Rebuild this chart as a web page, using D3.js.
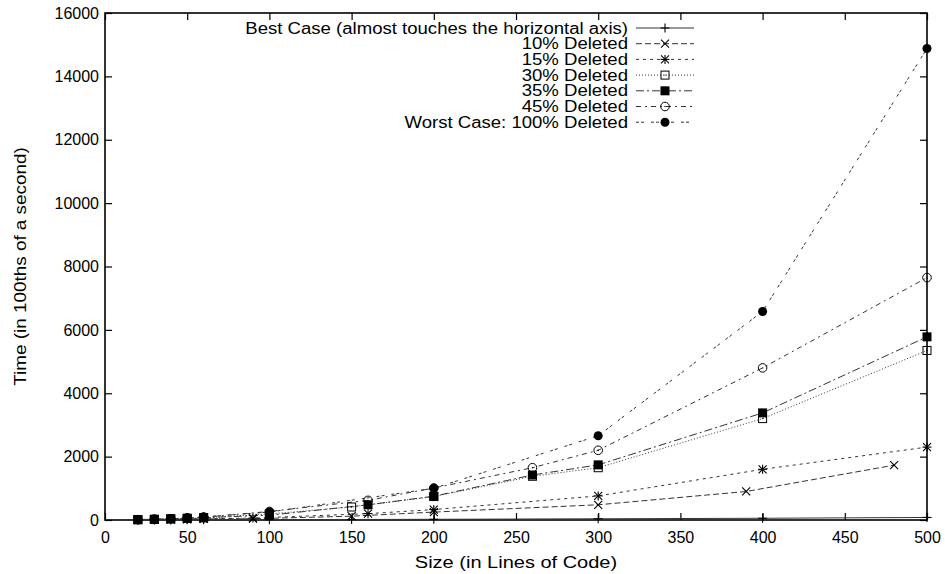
<!DOCTYPE html>
<html>
<head>
<meta charset="utf-8">
<script src="https://cdn.jsdelivr.net/npm/d3@7"></script>
<style>
  body { margin: 0; background: #fff; }
  text { font-family: "Liberation Sans", Arial, Helvetica, sans-serif; fill: #000; }
</style>
</head>
<body>
<svg id="chart" width="945" height="574"></svg>
<script>
// sizes (lines of code) and times (1/100 s)
const sizesBest = [20, 30, 40, 50, 60, 100, 150, 200, 300, 400, 500];
const timesBest = [1, 2, 3, 4, 5, 10, 16, 22, 38, 55, 80];

const sizes10 = [20, 30, 40, 50, 60, 90, 150, 200, 300, 390, 480];
const times10 = [4, 9, 16, 24, 33, 40, 120, 250, 480, 900, 1730];

const sizes15 = [20, 30, 40, 50, 60, 90, 160, 200, 300, 400, 500];
const times15 = [5, 11, 20, 30, 40, 60, 200, 330, 760, 1600, 2300];

const sizes30 = [20, 30, 40, 50, 60, 100, 150, 200, 260, 300, 400, 500];
const times30 = [10, 20, 35, 50, 70, 190, 410, 740, 1380, 1650, 3200, 5350];

const sizes35 = [20, 30, 40, 50, 60, 100, 160, 200, 260, 300, 400, 500];
const times35 = [10, 22, 38, 55, 75, 150, 480, 750, 1420, 1740, 3380, 5780];

const sizes45 = [20, 30, 40, 50, 60, 100, 160, 200, 260, 300, 400, 500];
const times45 = [12, 25, 42, 62, 85, 270, 620, 1010, 1650, 2200, 4800, 7650];

const sizesWorst = [20, 30, 40, 50, 60, 100, 200, 300, 400, 500];
const timesWorst = [15, 30, 50, 75, 100, 250, 1000, 2660, 6580, 14880];

const seriesNames = [
  "Best Case (almost touches the horizontal axis)",
  "10% Deleted",
  "15% Deleted",
  "30% Deleted",
  "35% Deleted",
  "45% Deleted",
  "Worst Case: 100% Deleted"
];

const xTicks = [0, 50, 100, 150, 200, 250, 300, 350, 400, 450, 500];
const yTicks = [0, 2000, 4000, 6000, 8000, 10000, 12000, 14000, 16000];

// gnuplot-like line types and point types
const dashes = ["none", "6,3", "3,4", "1,2", "8,3,2,3", "5,4,2,4", "3,2,3,7"];
const markers = ["plus", "cross", "star", "box", "boxF", "circle", "circleF"];

const allSizes = [sizesBest, sizes10, sizes15, sizes30, sizes35, sizes45, sizesWorst];
const allTimes = [timesBest, times10, times15, times30, times35, times45, timesWorst];

const series = seriesNames.map((name, i) => ({
  name: name,
  dash: dashes[i],
  marker: markers[i],
  points: allSizes[i].map((s, j) => ({ x: s, y: allTimes[i][j] }))
}));

const svg = d3.select("#chart");
const plotLeft = 105, plotRight = 927, plotTop = 13, plotBottom = 520;

const x = d3.scaleLinear().domain([0, 500]).range([plotLeft, plotRight]);
const y = d3.scaleLinear().domain([0, 16000]).range([plotBottom, plotTop]);

// stretch text horizontally (the original picture was scaled wider)
function stretch(sel, k) {
  sel.each(function () {
    const w = this.getComputedTextLength();
    d3.select(this).attr("textLength", w * k).attr("lengthAdjust", "spacingAndGlyphs");
  });
}

// axes, ticks pointing inward on all four sides
const tickLen = 7;

svg.append("g")
  .attr("transform", `translate(0,${plotBottom})`)
  .call(d3.axisBottom(x).tickValues(xTicks).tickSizeInner(-tickLen).tickSizeOuter(0).tickPadding(12));

svg.append("g")
  .attr("transform", `translate(${plotLeft},0)`)
  .call(d3.axisLeft(y).tickValues(yTicks).tickFormat(d3.format("d"))
    .tickSizeInner(-tickLen).tickSizeOuter(0).tickPadding(6));

svg.append("g")
  .attr("transform", `translate(0,${plotTop})`)
  .call(d3.axisTop(x).tickValues(xTicks).tickSizeInner(-tickLen).tickSizeOuter(0).tickFormat(""));

svg.append("g")
  .attr("transform", `translate(${plotRight},0)`)
  .call(d3.axisRight(y).tickValues(yTicks).tickSizeInner(-tickLen).tickSizeOuter(0).tickFormat(""));

svg.selectAll(".domain").remove();
svg.selectAll(".tick line").attr("stroke", "#000").attr("stroke-width", 1.2);
svg.selectAll(".tick text").attr("font-size", 16).attr("font-family", null);

svg.append("rect")
  .attr("x", plotLeft).attr("y", plotTop)
  .attr("width", plotRight - plotLeft).attr("height", plotBottom - plotTop)
  .attr("fill", "none").attr("stroke", "#000").attr("stroke-width", 1.6);

// axis titles
svg.append("text")
  .attr("x", (plotLeft + plotRight) / 2).attr("y", 568)
  .attr("text-anchor", "middle").attr("font-size", 16)
  .text("Size (in Lines of Code)")
  .call(stretch, 1.25);

svg.append("text")
  .attr("transform", `translate(26,${(plotTop + plotBottom) / 2}) rotate(-90)`)
  .attr("text-anchor", "middle").attr("font-size", 16)
  .text("Time (in 100ths of a second)")
  .call(stretch, 1.18);

// point symbols
function drawMarker(g, type, cx, cy) {
  const h = 4.5;
  const line = (x1, y1, x2, y2) => {
    g.append("line").attr("x1", x1).attr("y1", y1).attr("x2", x2).attr("y2", y2)
      .attr("stroke", "#000").attr("stroke-width", 1.1);
  };
  const dot = () => g.append("circle").attr("cx", cx).attr("cy", cy).attr("r", 0.7).attr("fill", "#000");
  switch (type) {
    case "plus":
      line(cx - h, cy, cx + h, cy); line(cx, cy - h, cx, cy + h);
      break;
    case "cross":
      line(cx - 4, cy - 4, cx + 4, cy + 4); line(cx - 4, cy + 4, cx + 4, cy - 4);
      break;
    case "star":
      line(cx - h, cy, cx + h, cy); line(cx, cy - h, cx, cy + h);
      line(cx - 4, cy - 4, cx + 4, cy + 4); line(cx - 4, cy + 4, cx + 4, cy - 4);
      break;
    case "box":
      g.append("rect").attr("x", cx - 4).attr("y", cy - 4).attr("width", 8).attr("height", 8)
        .attr("fill", "none").attr("stroke", "#000").attr("stroke-width", 1);
      dot();
      break;
    case "boxF":
      g.append("rect").attr("x", cx - 4.5).attr("y", cy - 4.5).attr("width", 9).attr("height", 9)
        .attr("fill", "#000");
      break;
    case "circle":
      g.append("circle").attr("cx", cx).attr("cy", cy).attr("r", 4.3)
        .attr("fill", "none").attr("stroke", "#000").attr("stroke-width", 1);
      dot();
      break;
    case "circleF":
      g.append("circle").attr("cx", cx).attr("cy", cy).attr("r", 4.5).attr("fill", "#000");
      break;
  }
}

const lineGen = d3.line().x(d => x(d.x)).y(d => y(d.y));

const plot = svg.append("g");
series.forEach(s => {
  plot.append("path")
    .datum(s.points)
    .attr("d", lineGen)
    .attr("fill", "none")
    .attr("stroke", "#333")
    .attr("stroke-width", 1)
    .attr("stroke-dasharray", s.dash);
});
series.forEach(s => {
  const g = plot.append("g");
  s.points.forEach(p => drawMarker(g, s.marker, x(p.x), y(p.y)));
});

// legend
const legendRight = 628, sampleX1 = 636, sampleX2 = 694, legendY = 28, rowH = 15.7;
const legend = svg.append("g");
series.forEach((s, i) => {
  const ly = legendY + i * rowH;
  legend.append("text")
    .attr("x", legendRight).attr("y", ly)
    .attr("dy", "0.35em")
    .attr("text-anchor", "end").attr("font-size", 16)
    .text(s.name)
    .call(stretch, 1.16);
  legend.append("line")
    .attr("x1", sampleX1).attr("x2", sampleX2).attr("y1", ly).attr("y2", ly)
    .attr("stroke", "#333").attr("stroke-width", 1)
    .attr("stroke-dasharray", s.dash);
  drawMarker(legend.append("g"), s.marker, (sampleX1 + sampleX2) / 2, ly);
});
</script>
</body>
</html>
